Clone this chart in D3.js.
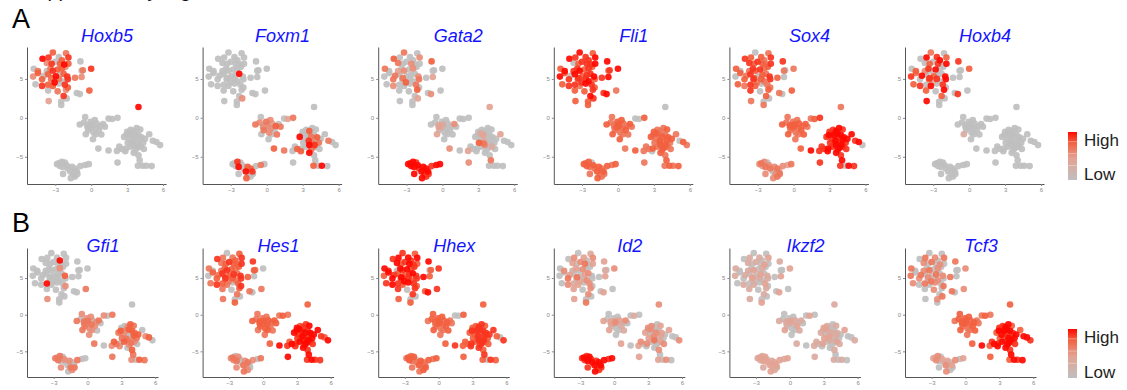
<!DOCTYPE html>
<html>
<head>
<meta charset="utf-8">
<script src="https://cdn.jsdelivr.net/npm/d3@7"></script>
<style>
  html, body { margin: 0; padding: 0; background: #fff; }
  svg { display: block; font-family: "Liberation Sans", Arial, sans-serif; }
</style>
</head>
<body>
<svg id="fig" width="1127" height="390"></svg>
<script>
// t-SNE coordinates of the cells (four clusters: HSC, middle, right, bottom-left)
const cellX = [
  -4.06,-3.56,-3.2,-2.7,-2.1,-1.9,-2.45,-3.7,-3.3,-3.0,
  -2.6,-2.25,-1.9,-4.8,-4.45,-3.7,-3.4,-3.2,-2.8,-2.45,
  -2.15,-0.9,-0.7,0.0,-4.45,-3.95,-3.6,-3.3,-2.95,-2.6,
  -2.3,-2.0,-0.8,-4.85,-4.1,-3.35,-3.05,-2.7,-2.45,-1.95,
  -1.35,-0.8,-4.65,-4.1,-3.6,-3.2,-2.7,-2.2,-1.95,-3.6,
  -2.8,-2.1,-1.2,-0.95,-0.15,-2.3,-2.05,-3.55,-2.5,-2.5,
  -0.5,-0.95,-0.6,-0.3,-0.05,0.05,0.3,0.45,0.75,1.0,
  1.15,0.65,0.35,-0.1,-0.25,0.1,0.2,-0.45,0.4,0.85,
  0.15,0.6,1.45,1.75,2.2,-0.3,
  3.95,3.8,4.1,3.55,3.2,2.95,2.75,3.4,3.7,3.95,
  4.2,3.2,3.5,3.8,4.1,4.35,3.55,3.25,2.9,2.55,
  2.15,1.45,2.35,3.85,4.15,3.55,3.95,4.05,3.9,4.3,
  4.6,5.05,4.85,5.15,5.75,5.45,2.2,2.85,3.0,3.65,
  3.45,4.0,3.3,4.5,3.05,3.7,4.4,
  -2.85,-2.7,-2.45,-2.2,-2.05,-2.35,-2.6,-1.95,-1.6,-1.35,
  -0.9,-0.5,-0.2,-2.35,-1.75,-1.5,-1.2,-1.35,-1.7,-1.15
];
const cellY = [
  7.6,7.75,8.4,7.8,8.3,7.75,7.4,7.05,6.95,7.2,
  6.95,6.85,6.95,6.3,6.0,6.0,6.3,6.05,6.2,6.35,
  6.55,7.25,6.1,6.3,5.75,5.4,5.6,5.1,5.35,5.5,
  5.65,5.3,6.05,5.3,4.95,4.95,4.55,5.0,4.7,4.95,
  5.15,5.25,4.3,4.1,4.25,4.1,4.4,4.25,3.9,3.5,
  3.4,3.6,3.2,3.05,3.5,2.8,2.5,2.15,2.1,1.65,
  0.1,-0.85,-0.6,-0.95,-0.5,-0.85,-0.3,-0.75,-1.05,-0.8,
  -1.15,-1.55,-1.35,-1.25,-1.6,-1.05,-1.9,-2.1,-2.1,-2.15,
  -2.75,-3.95,-0.1,-0.15,0.0,-1.2,
  1.4,-1.3,-1.5,-1.7,-2.0,-2.2,-2.45,-2.2,-2.45,-2.2,
  -2.5,-2.75,-2.95,-3.2,-2.85,-3.2,-3.5,-3.7,-3.95,-4.0,
  -4.25,-4.2,-3.7,-3.85,-3.7,-4.5,-4.8,-5.45,-6.15,-6.15,
  -6.15,-6.2,-2.1,-2.95,-3.5,-3.1,-5.75,-4.3,-1.8,-2.0,
  -3.3,-3.5,-1.55,-2.7,-3.2,-4.1,-4.0,
  -5.95,-5.85,-5.65,-5.75,-6.1,-6.3,-6.2,-6.5,-6.3,-6.5,
  -6.2,-6.05,-5.95,-7.2,-6.9,-7.2,-6.9,-7.55,-7.75,-7.2
];

// Scaled expression per cell (0 = none … 9 = highest), same cell order as above
const exprHoxb5 = "987068758079706068775068707690780576960865087708706500780400" + "00000000000000000000000000" + "90000000000000000000000000000000000000000000000" + "00000000000000000000";
const exprFoxm1 = "000000000000000000000000000000900000000000000000000000005000" + "06506054706050655006070465" + "00070090607086069007060509007090060007000800060" + "00800900770600908070";
const exprGata2 = "706005060050060405050700060600050060700604050006000705004000" + "00040300050003000400050004" + "40003004000030005000400030060000400050006000700" + "98989998998999989898";
const exprFli1  = "989879807888979889787989709878896987889789788698777889698777" + "67667676676767676766760076" + "06767676767676767676676767676767606760706767676" + "76707676767676767676";
const exprSox4  = "870768687876870687867806768707686078676870768706680760770606" + "67676767676767676767676786" + "69898989899898989898898989898098980989898989898" + "56505646565465054656";
const exprHoxb4 = "096807907080907580900807690870090807480900780908070908070900" + "00000000000000000300000000" + "00000000000000000000000000000000000000000000000" + "00000000000000000000";
const exprGfi1  = "000000900000000000050000000000070000000000009000500000600500" + "56065650560565605650565065" + "07650765076500765706507650765076050765076507650" + "60605060506005060506";
const exprHes1  = "860678767876860678767860768678687078676870687607860760660607" + "67676767677676767676676767" + "78989897989898798989897989898988989798908979898" + "56050650565065650560";
const exprHhex  = "898979897898798098978978987978980798987897898798780879880707" + "76767676766767676767670076" + "78787878788787878787787878787087878078787878787" + "67670676767676706767";
const exprId2   = "050435040560405240500405040604503060405004053405040504050406" + "04040304050304050403040304" + "50405040504050406050405040504050405040504050405" + "89898989899898989898";
const exprIkzf2 = "030304030304030304030304030304030304030304030304030304030304" + "03030403030403030403030403" + "30304030303040303040303040303030403030403030403" + "34343434344343434343";
const exprTcf3  = "060506050605060506050605060506050650605060506050605060506050" + "76767676766767676767676767" + "79798979898979897989798979897989798979897989798" + "40504050405040504050";

const genesA = ["Hoxb5", "Foxm1", "Gata2", "Fli1", "Sox4", "Hoxb4"];
const genesB = ["Gfi1", "Hes1", "Hhex", "Id2", "Ikzf2", "Tcf3"];
const exprA = [exprHoxb5, exprFoxm1, exprGata2, exprFli1, exprSox4, exprHoxb4];
const exprB = [exprGfi1, exprHes1, exprHhex, exprId2, exprIkzf2, exprTcf3];

const xTicks = [-3, 0, 3, 6];
const yTicks = [-5, 0, 5];
const legendLabels = ["High", "Low"];

const svg = d3.select("#fig");

// Figure heading (sits above the top edge)
svg.append("text").attr("x", 23).attr("y", -3)
  .attr("font-size", 20).attr("fill", "#111").text("Supplementary Figure");

// grey -> salmon -> orange-red -> red
const color = d3.scaleLinear().domain([0, 4, 7, 9])
  .range(["#bfbfbf", "#e3a394", "#f2603f", "#ff0800"]).interpolate(d3.interpolateRgb);

const rows = [
  { label: "A", labelY: 28, genes: genesA, expr: exprA, top: 47, bottom: 184, width: 139, titleY: 42, titleDx: 80,
    legTop: 132, legBottom: 180 },
  { label: "B", labelY: 232, genes: genesB, expr: exprB, top: 248, bottom: 377, width: 131, titleY: 252, titleDx: 76,
    legTop: 329, legBottom: 378 }
];

// Legend gradient
const defs = svg.append("defs");
const grad = defs.append("linearGradient").attr("id", "hiLo")
  .attr("x1", 0).attr("y1", 1).attr("x2", 0).attr("y2", 0);
[0, 4, 7, 9].forEach(v => grad.append("stop")
  .attr("offset", (v / 9 * 100) + "%").attr("stop-color", color(v)));

rows.forEach(row => {
  svg.append("text").attr("x", 12).attr("y", row.labelY)
    .attr("font-size", 27).attr("fill", "#000").text(row.label);

  row.genes.forEach((gene, k) => {
    const left = 27 + 175.6 * k;
    const x = d3.scaleLinear().domain([-5.36, 6.25]).range([left, left + row.width]);
    const y = d3.scaleLinear().domain([-8.5, 9.1]).range([row.bottom, row.top]);
    const g = svg.append("g");

    const vals = row.expr[k].split("").map(Number);
    const cells = cellX.map((cx, i) => ({ x: cx, y: cellY[i], v: vals[i] }))
      .sort((a, b) => a.v - b.v);

    g.selectAll("circle").data(cells).join("circle")
      .attr("cx", d => x(d.x)).attr("cy", d => y(d.y)).attr("r", 3.3)
      .attr("fill", d => color(d.v)).attr("fill-opacity", 0.92);

    const ax = g.append("g").attr("transform", `translate(0,${row.bottom})`)
      .call(d3.axisBottom(x).tickValues(xTicks).tickSize(2).tickSizeOuter(0).tickPadding(2));
    const ay = g.append("g").attr("transform", `translate(${left},0)`)
      .call(d3.axisLeft(y).tickValues(yTicks).tickSize(2).tickSizeOuter(0).tickPadding(2));
    [ax, ay].forEach(a => {
      a.select(".domain").attr("stroke", "#555").attr("stroke-width", 1);
      a.selectAll(".tick line").attr("stroke", "#888");
      a.selectAll(".tick text").attr("font-size", 6).attr("fill", "#888")
        .attr("font-family", "Liberation Sans, Arial, sans-serif");
    });

    svg.append("text").attr("x", left + row.titleDx).attr("y", row.titleY)
      .attr("text-anchor", "middle").attr("font-size", 18).attr("font-style", "italic")
      .attr("fill", "#1414ff").text(gene);
  });

  // Colour bar legend
  const lg = svg.append("g");
  lg.append("rect").attr("x", 1068).attr("y", row.legTop).attr("width", 9)
    .attr("height", row.legBottom - row.legTop).attr("fill", "url(#hiLo)");
  [0.2, 0.45, 0.7].forEach(f => {
    const yy = row.legTop + f * (row.legBottom - row.legTop);
    lg.append("line").attr("x1", 1068).attr("x2", 1077).attr("y1", yy).attr("y2", yy)
      .attr("stroke", "#fff").attr("stroke-opacity", 0.35);
  });
  lg.append("text").attr("x", 1084).attr("y", row.legTop + 14)
    .attr("font-size", 17).attr("fill", "#222").text(legendLabels[0]);
  lg.append("text").attr("x", 1084).attr("y", row.legBottom - 0)
    .attr("font-size", 17).attr("fill", "#222").text(legendLabels[1]);
});
</script>
</body>
</html>
